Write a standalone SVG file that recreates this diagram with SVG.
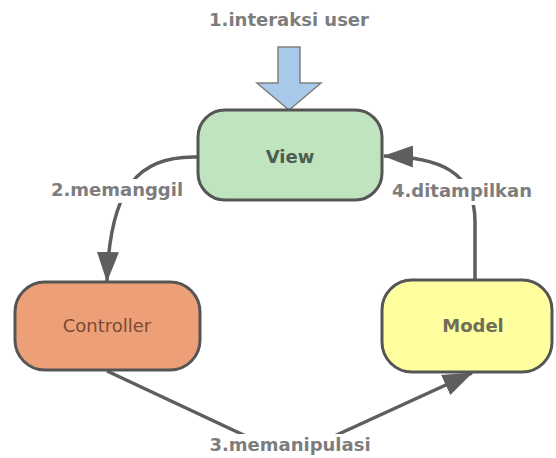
<svg xmlns="http://www.w3.org/2000/svg" width="556" height="458" viewBox="0 0 556 458">
  <style>
    .box { stroke: #555555; stroke-width: 3; }
    .conn { fill: none; stroke: #5e5e5e; stroke-width: 3.5; }
    .lbl { font-family: "DejaVu Sans", Verdana, sans-serif; font-weight: bold; font-size: 18px; fill: #7d7d7d; text-anchor: middle; }
    .name { font-family: "DejaVu Sans", Verdana, sans-serif; font-size: 18px; text-anchor: middle; }
    .gap { fill: #ffffff; }
  </style>
  <defs>
    <marker id="head" markerUnits="userSpaceOnUse" markerWidth="30" markerHeight="22" refX="29" refY="11" orient="auto">
      <path d="M0,0 L30,11 L0,22 Z" fill="#5e5e5e"/>
    </marker>
  </defs>

  <rect width="556" height="458" fill="#ffffff"/>

  <!-- user input arrow -->
  <g id="input">
    <text class="lbl" x="289" y="26">1.interaksi user</text>
    <polygon points="278,47 300,47 300,83 321,83 289,110 257,83 278,83" fill="#a9c9ea" stroke="#7f7f7f" stroke-width="1.5"/>
  </g>

  <!-- connectors -->
  <g id="connectors">
    <path class="conn" d="M198,157 C140,155 110,185 107,281" marker-end="url(#head)"/>
    <path class="conn" d="M107,371 L250,438 Q290,456 330,438 L472,373" marker-end="url(#head)"/>
    <path class="conn" d="M475,280 L475,222 C475,172 440,157 384,156" marker-end="url(#head)"/>
    <rect class="gap" x="48" y="179" width="138" height="24"/>
    <rect class="gap" x="388" y="179" width="150" height="26"/>
    <rect class="gap" x="204" y="434" width="172" height="24"/>
    <text class="lbl" x="117" y="196">2.memanggil</text>
    <text class="lbl" x="462" y="197">4.ditampilkan</text>
    <text class="lbl" x="290" y="451">3.memanipulasi</text>
  </g>

  <g id="view">
    <rect class="box" x="198" y="110" width="184" height="90" rx="27" fill="#bfe4bf"/>
    <text class="name" x="290" y="163" font-weight="bold" fill="#4e5e4e">View</text>
  </g>

  <g id="controller">
    <rect class="box" x="15" y="282" width="185" height="88" rx="30" fill="#eda078"/>
    <text class="name" x="107" y="332" fill="#7a4a33">Controller</text>
  </g>

  <g id="model">
    <rect class="box" x="382" y="280" width="170" height="92" rx="30" fill="#ffff9f"/>
    <text class="name" x="473" y="332" font-weight="bold" fill="#6e6e58">Model</text>
  </g>
</svg>
